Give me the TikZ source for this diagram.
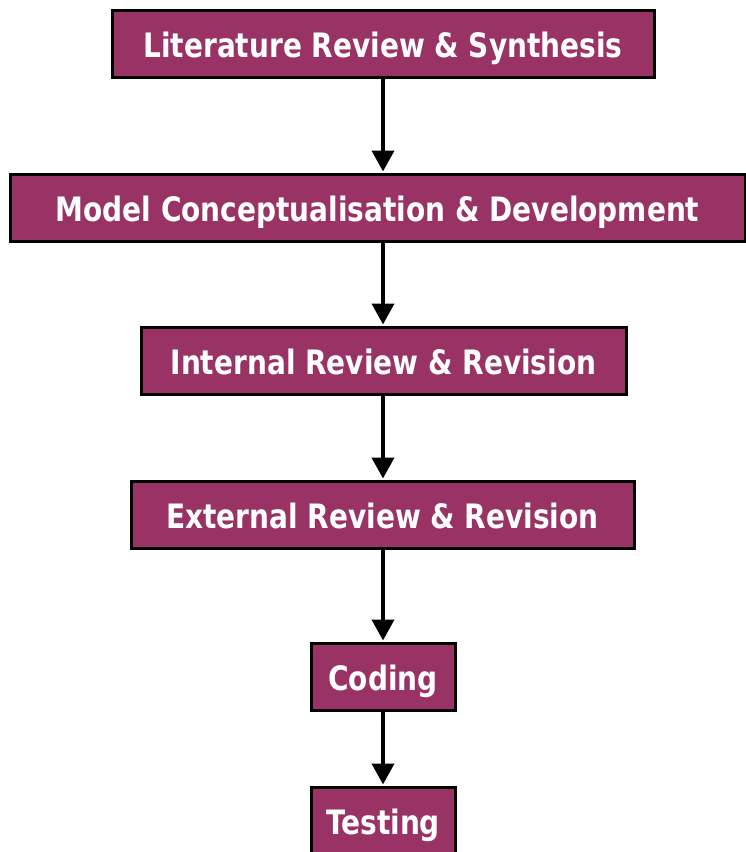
\documentclass[tikz,border=0pt]{standalone}
\usepackage{fontspec}
\usepackage{graphicx}
\setmainfont{DejaVu Sans}
\usetikzlibrary{arrows.meta}
\definecolor{plum}{HTML}{993366}
\newcommand\talltext[1]{\scalebox{1}[1.2]{#1}}
\begin{document}
\begin{tikzpicture}[x=1pt,y=-1pt,
  stage/.style={draw=black,line width=3pt,fill=plum,text=white,inner sep=0pt,
    minimum height=67pt,text height=30pt,text depth=3pt,
    font=\bfseries\fontsize{28}{32}\selectfont,anchor=center},
  flow/.style={line width=4pt,-{Triangle[width=22pt,length=21pt]},shorten >=1pt}]
\useasboundingbox (0,0) rectangle (746,852);
\begin{scope}
\clip (0,0) rectangle (746,852);
\node[stage,minimum width=542pt] (s1) at (383,43.5) {\talltext{Literature Review \& Synthesis}};
\node[stage,minimum width=735pt] (s2) at (377.5,207.5) {\talltext{Model Conceptualisation \& Development}};
\node[stage,minimum width=485pt] (s3) at (383.5,360.5) {\talltext{Internal Review \& Revision}};
\node[stage,minimum width=503pt] (s4) at (382.5,514.5) {\talltext{External Review \& Revision}};
\node[stage,minimum width=144pt] (s5) at (383,676.5) {\talltext{Coding}};
\node[stage,minimum width=144pt] (s6) at (383,820.5) {\talltext{Testing}};
\draw[flow] (s1.south -| 383,0) -- (s2.north -| 383,0);
\draw[flow] (s2.south -| 383,0) -- (s3.north -| 383,0);
\draw[flow] (s3.south -| 383,0) -- (s4.north -| 383,0);
\draw[flow] (s4.south -| 383,0) -- (s5.north -| 383,0);
\draw[flow] (s5.south -| 383,0) -- (s6.north -| 383,0);
\end{scope}
\end{tikzpicture}
\end{document}
